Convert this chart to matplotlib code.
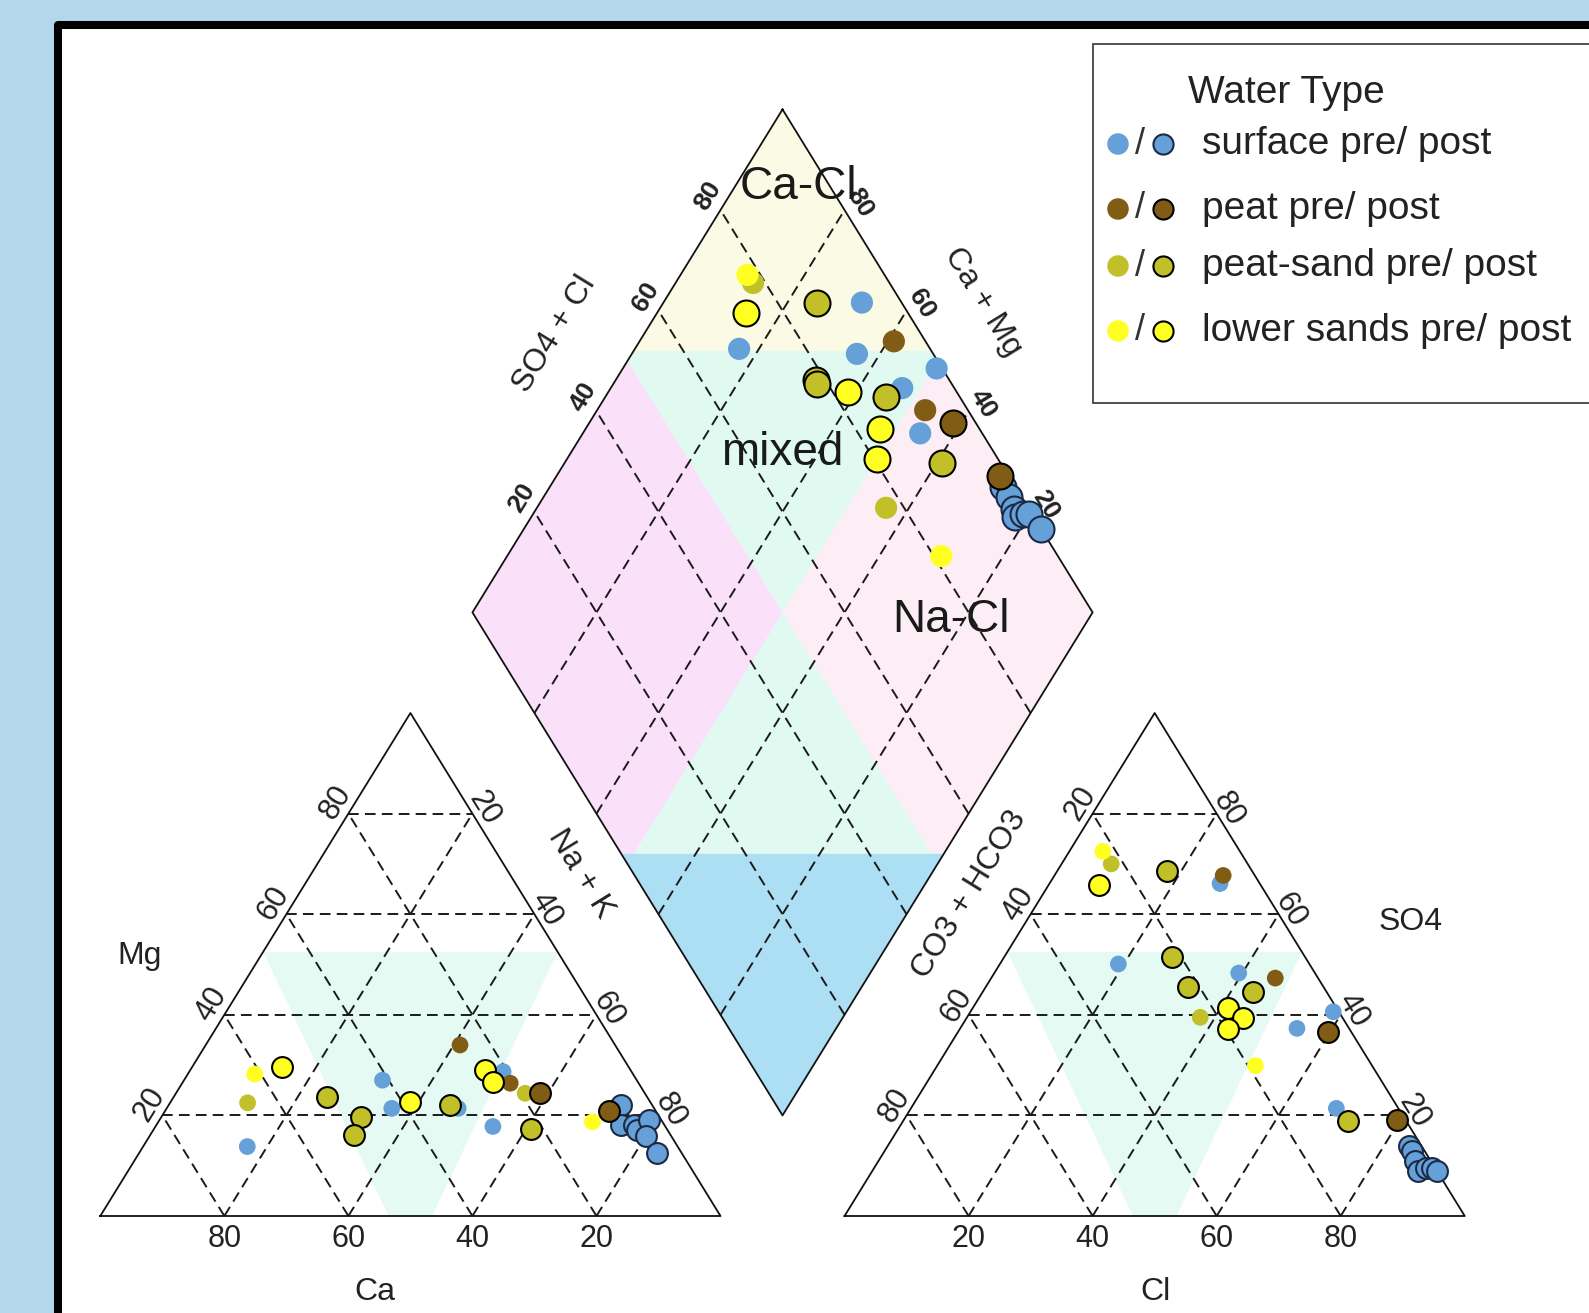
import numpy as np
import matplotlib
matplotlib.use("Agg")
import matplotlib.pyplot as plt
from matplotlib.patches import Polygon, Rectangle
from matplotlib.transforms import Affine2D

plt.rcParams['font.family'] = ['Liberation Sans', 'DejaVu Sans']

W, HP = 1589, 1313
H = np.sqrt(3) / 2

# sample chemistry in percent: cations (Ca, Mg; Na+K is the rest)
# and anions (SO4, Cl; CO3+HCO3 is the rest)
surface_pre_ca = [69.4, 41.0, 42.3, 20.7, 31.6, 27.8]
surface_pre_mg = [13.8, 27.0, 21.4, 28.7, 21.4, 17.8]
surface_pre_so4 = [50.1, 66.1, 48.3, 40.6, 37.3, 21.4]
surface_pre_cl = [19.1, 27.5, 39.4, 58.5, 54.3, 68.6]

surface_post_ca = [5.0, 7.0, 5.0, 5.0, 2.0, 4.0, 4.0]
surface_post_mg = [22.0, 18.0, 18.0, 17.0, 19.0, 16.0, 12.5]
surface_post_so4 = [14.0, 13.0, 11.0, 9.0, 9.5, 9.5, 9.0]
surface_post_cl = [84.0, 85.0, 86.5, 88.0, 89.0, 90.0, 91.0]

peat_pre_ca = [25.0, 20.7]
peat_pre_mg = [34.0, 26.4]
peat_pre_so4 = [67.7, 47.3]
peat_pre_cl = [27.2, 45.8]

peat_post_ca = [16.8, 7.6]
peat_post_mg = [24.5, 20.9]
peat_post_so4 = [36.6, 19.1]
peat_post_cl = [59.7, 79.5]

peatsand_pre_ca = [19.3, 65.0]
peatsand_pre_mg = [24.4, 22.5]
peatsand_pre_so4 = [39.5, 70.0]
peatsand_pre_cl = [37.6, 8.0]

peatsand_post_ca = [51.6, 48.2, 51.1, 32.6, 22.0]
peatsand_post_mg = [23.6, 19.6, 16.1, 22.1, 17.2]
peatsand_post_so4 = [68.5, 51.5, 45.6, 44.6, 18.8]
peatsand_post_cl = [17.8, 27.0, 32.6, 43.6, 71.8]

lower_pre_ca = [61.0, 11.3]
lower_pre_mg = [28.2, 18.7]
lower_pre_so4 = [72.5, 29.9]
lower_pre_cl = [5.4, 51.3]

lower_post_ca = [55.9, 38.7, 23.5, 23.3]
lower_post_mg = [29.7, 22.7, 29.0, 26.7]
lower_post_so4 = [65.9, 41.3, 39.3, 37.2]
lower_post_cl = [8.0, 41.1, 44.6, 43.3]

type_labels = ["surface pre/ post", "peat pre/ post",
               "peat-sand pre/ post", "lower sands pre/ post"]
type_colors = ["#66a0d8", "#805c14", "#c2c028", "#ffff22"]
post_edges = ["#1a2a45", "black", "black", "black"]

groups = [
    (0, False, surface_pre_ca, surface_pre_mg, surface_pre_so4, surface_pre_cl),
    (1, False, peat_pre_ca, peat_pre_mg, peat_pre_so4, peat_pre_cl),
    (2, False, peatsand_pre_ca, peatsand_pre_mg, peatsand_pre_so4, peatsand_pre_cl),
    (3, False, lower_pre_ca, lower_pre_mg, lower_pre_so4, lower_pre_cl),
    (0, True, surface_post_ca, surface_post_mg, surface_post_so4, surface_post_cl),
    (1, True, peat_post_ca, peat_post_mg, peat_post_so4, peat_post_cl),
    (2, True, peatsand_post_ca, peatsand_post_mg, peatsand_post_so4, peatsand_post_cl),
    (3, True, lower_post_ca, lower_post_mg, lower_post_so4, lower_post_cl),
]

grid_vals = [20, 40, 60, 80]


def cat_xy(ca, mg, na):
    ca, mg, na = np.asarray(ca, float), np.asarray(mg, float), np.asarray(na, float)
    return (na + mg / 2) / 100, mg / 100 * H


def an_xy(hco3, so4, cl):
    hco3, so4, cl = np.asarray(hco3, float), np.asarray(so4, float), np.asarray(cl, float)
    return 1.2 + (cl + so4 / 2) / 100, so4 / 100 * H


def dia_xy(camg, so4cl):
    c = np.asarray(camg, float) / 100
    s = np.asarray(so4cl, float) / 100
    return 1.1 + 0.5 * (s - c), 0.2 * H + H * (s + c)


fig = plt.figure(figsize=(W / 100, HP / 100), dpi=100, facecolor="#b3d8ed")
ax = fig.add_axes([0, 0, 1, 1])
ax.set_xlim(-100.3 / 620.2, (W - 100.3) / 620.2)
ax.set_ylim((1216 - HP) / 580.8, 1216 / 580.8)
ax.axis("off")
ax.patch.set_visible(False)

# pixel coordinates, origin top-left
px = Affine2D().scale(1 / W, -1 / HP).translate(0, 1) + fig.transFigure

fig.add_artist(Rectangle((57.5, 25), 1700, 1500, transform=px, facecolor="white",
                         edgecolor="black", lw=5.8, joinstyle="round", zorder=-10))


def poly(xy, color, z=1):
    ax.add_patch(Polygon(np.column_stack(xy), closed=True, facecolor=color,
                         edgecolor="none", zorder=z))


# diamond facies fields
poly(dia_xy([100, 100, 0, 0], [100, 0, 0, 100]), "#e0faf2")
poly(dia_xy([100, 100, 52], [100, 52, 100]), "#fbfbe5")
poly(dia_xy([100, 100, 50, 50], [50, 0, 0, 50]), "#fbe0fa")
poly(dia_xy([50, 50, 0, 0], [100, 50, 50, 100]), "#fdeef6")
poly(dia_xy([52, 0, 0], [0, 0, 52]), "#acdff4")

# mixed fields in the triangles
poly(cat_xy([47.5, 0, 46.5, 53.5], [52.5, 52.5, 0, 0], [0, 47.5, 53.5, 46.5]), "#e4faf3")
poly(an_xy([47.5, 0, 46.5, 53.5], [52.5, 52.5, 0, 0], [0, 47.5, 53.5, 46.5]), "#e4faf3")

dash = dict(color="#1a1a1a", lw=1.4, dashes=(5.5, 3.2), zorder=2)
for v in grid_vals:
    u = 100 - v
    for f in (cat_xy, an_xy):
        for a, b in [((u, v, 0), (0, v, u)), ((v, 0, u), (v, u, 0)), ((u, 0, v), (0, u, v))]:
            x, y = f(*zip(a, b))
            ax.plot(x, y, **dash)
    x, y = dia_xy([v, v], [0, 100])
    ax.plot(x, y, **dash)
    x, y = dia_xy([0, 100], [v, v])
    ax.plot(x, y, **dash)

edge = dict(color="#111111", lw=1.3, zorder=3)
for f in (cat_xy, an_xy):
    x, y = f([100, 0, 0, 100], [0, 100, 0, 0], [0, 0, 100, 0])
    ax.plot(x, y, **edge)
x, y = dia_xy([100, 100, 0, 0, 100], [100, 0, 0, 100, 100])
ax.plot(x, y, **edge)

# samples
for k, post, ca, mg, so4, cl in groups:
    ca, mg, so4, cl = map(np.asarray, (ca, mg, so4, cl))
    na = 100 - ca - mg
    hco3 = 100 - so4 - cl
    if post:
        sty = dict(c=type_colors[k], edgecolors=post_edges[k], linewidths=1.5, zorder=6)
        s_tri, s_dia = 225, 350
    else:
        sty = dict(c=type_colors[k], edgecolors="none", zorder=5)
        s_tri, s_dia = 145, 255
    ax.scatter(*cat_xy(ca, mg, na), s=s_tri, **sty)
    ax.scatter(*an_xy(hco3, so4, cl), s=s_tri, **sty)
    ax.scatter(*dia_xy(ca + mg, so4 + cl), s=s_dia, **sty)

tc = "#222222"
tick = dict(fontsize=22, color=tc, ha="center", va="center", rotation_mode="anchor",
            textcoords="offset pixels", zorder=7)
bold = dict(tick, fontsize=19, fontweight="bold")
rot = 58.3
for v in grid_vals:
    u = 100 - v
    # cation triangle
    ax.annotate(str(v), cat_xy(u, v, 0), xytext=(-13, 11), rotation=rot, **tick)
    ax.annotate(str(v), cat_xy(0, u, v), xytext=(12, 5), rotation=-rot, **tick)
    ax.annotate(str(v), cat_xy(v, 0, u), xytext=(0, -23), **tick)
    # anion triangle
    ax.annotate(str(v), an_xy(v, u, 0), xytext=(-12, 10), rotation=rot, **tick)
    ax.annotate(str(v), an_xy(0, v, u), xytext=(12, 4), rotation=-rot, **tick)
    ax.annotate(str(v), an_xy(u, 0, v), xytext=(0, -23), **tick)
    # diamond
    ax.annotate(str(v), dia_xy(100, v), xytext=(-13, 14), rotation=rot, **bold)
    ax.annotate(str(v), dia_xy(v, 100), xytext=(15, 7), rotation=-rot, **bold)

title = dict(fontsize=23, color=tc, ha="center", va="center", rotation_mode="anchor", zorder=7)
ax.text(0.064, 0.448, "Mg", **title)
ax.text(0.443, -0.131, "Ca", **title)
ax.text(0.775, 0.590, "Na + K", rotation=-rot, **title)
ax.text(1.401, 0.554, "CO3 + HCO3", rotation=rot, **title)
ax.text(2.113, 0.507, "SO4", **title)
ax.text(1.701, -0.131, "Cl", **title)
ax.text(0.732, 1.519, "SO4 + Cl", rotation=rot, **title)
ax.text(1.423, 1.574, "Ca + Mg", rotation=-rot, **title)

zone = dict(fontsize=33, color="#1a1a1a", ha="center", va="center", zorder=7)
ax.text(1.125, 1.771, "Ca-Cl", **zone)
ax.text(1.099, 1.314, "mixed", **zone)
ax.text(1.372, 1.026, "Na-Cl", **zone)

# legend
ax.add_patch(Rectangle((1092.7, 44), 600, 359, transform=px, facecolor="white",
                       edgecolor="#333333", lw=1.2, zorder=8, clip_on=False))
ax.text(1286, 93, "Water Type", fontsize=28, color=tc, transform=px,
        ha="center", va="center", zorder=9)
rows = [144, 209, 266, 331]
for k, yrow in enumerate(rows):
    ax.scatter([1118], [yrow], s=240, c=type_colors[k], edgecolors="none",
               transform=px, zorder=9, clip_on=False)
    ax.scatter([1163], [yrow], s=210, c=type_colors[k], edgecolors=post_edges[k],
               linewidths=1.5, transform=px, zorder=9, clip_on=False)
    ax.text(1140, yrow, "/", fontsize=26, color="#333333", transform=px,
            ha="center", va="center", zorder=9)
    ax.text(1202, yrow, type_labels[k], fontsize=28, color=tc, transform=px,
            ha="left", va="center", zorder=9)

fig.savefig("out.png", dpi=100, facecolor=fig.get_facecolor())
